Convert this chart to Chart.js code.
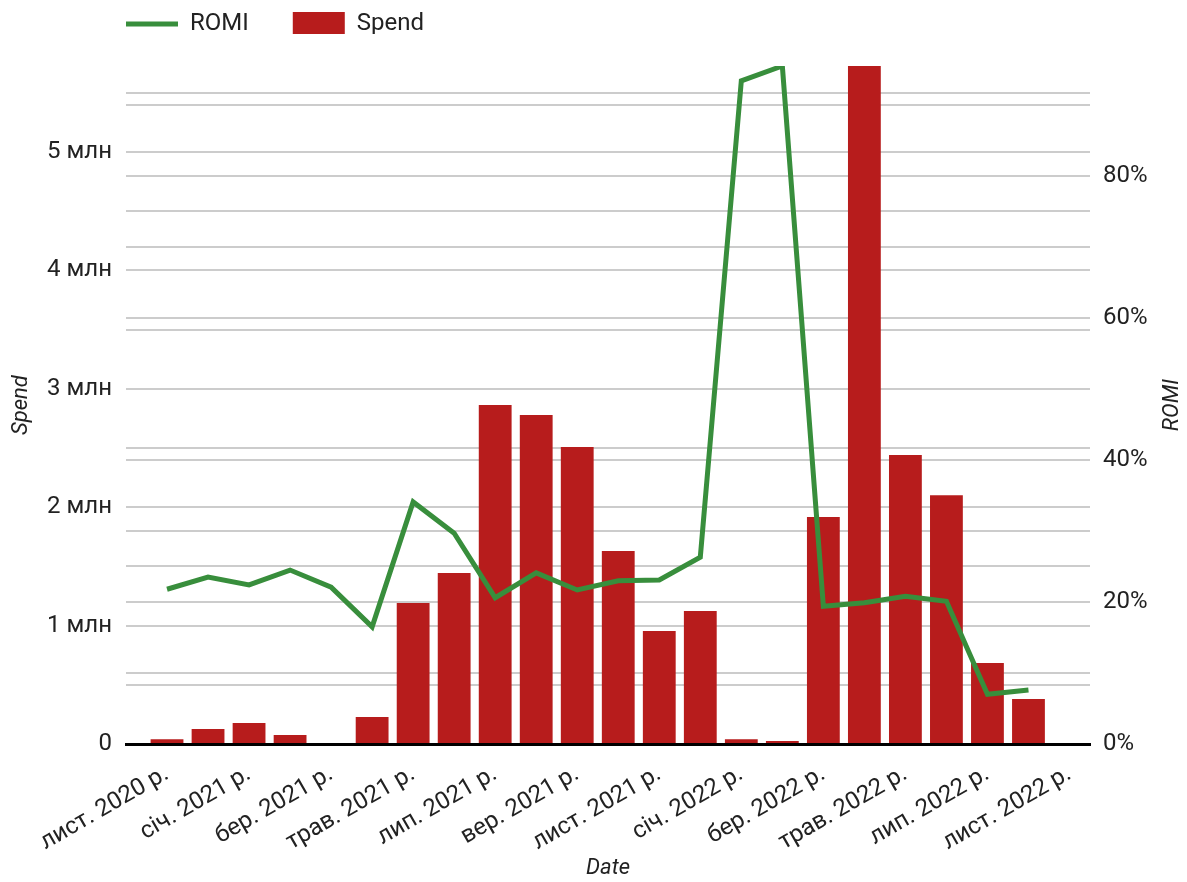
<!DOCTYPE html>
<html>
<head>
<meta charset="utf-8">
<script src="https://cdn.jsdelivr.net/npm/chart.js@4.4.1/dist/chart.umd.min.js"></script>
<style>
  body { margin: 0; background: #fff; }
</style>
</head>
<body>
<canvas id="romi-chart" width="1187" height="882"></canvas>
<script>
// one category per month, only every second one gets a label on the axis
var months = ['лист. 2020 р.', 'груд. 2020 р.', 'січ. 2021 р.', 'лют. 2021 р.', 'бер. 2021 р.',
  'квіт. 2021 р.', 'трав. 2021 р.', 'черв. 2021 р.', 'лип. 2021 р.', 'серп. 2021 р.', 'вер. 2021 р.',
  'жовт. 2021 р.', 'лист. 2021 р.', 'груд. 2021 р.', 'січ. 2022 р.', 'лют. 2022 р.', 'бер. 2022 р.',
  'квіт. 2022 р.', 'трав. 2022 р.', 'черв. 2022 р.', 'лип. 2022 р.', 'серп. 2022 р.', 'лист. 2022 р.'];

var labelledMonths = [0, 2, 4, 6, 8, 10, 12, 14, 16, 18, 20, 22];

// spend per month
var spend = [40000, 127000, 177000, 76000, 0, 228000, 1190000, 1444000, 2863000, 2779000, 2508000,
  1630000, 954000, 1123000, 40000, 25000, 1917000, 5725000, 2440000, 2100000, 684000, 380000];

// ROMI per month, in %
var romi = [21.8, 23.5, 22.4, 24.5, 22.1, 16.5, 34.1, 29.7, 20.6, 24.1, 21.7,
  23.0, 23.1, 26.3, 93.4, 95.5, 19.4, 19.9, 20.8, 20.1, 7.0, 7.6];

var textColor = '#222';
Chart.defaults.font.family = "Roboto, 'Noto Sans', sans-serif";
Chart.defaults.color = textColor;

// gridlines every `step`, but none at the top edge (the max is just the data max)
function stepTicks(step) {
  return function(axis) {
    var ticks = [];
    for (var i = 0; i * step <= axis.max; i++) {
      ticks.push({value: i * step});
    }
    axis.ticks = ticks;
  };
}

// legend sits above the plot, starting where the plot starts
var legendShift = {
  id: 'legendShift',
  afterLayout: function(chart) {
    var l = chart.legend;
    l.left += 82;
    l.right += 82;
    l.top -= 32;
    l.bottom -= 32;
  }
};

// right axis title reads bottom to top, like the left one
var romiTitle = {
  id: 'romiTitle',
  afterDraw: function(chart) {
    var ctx = chart.ctx;
    var area = chart.chartArea;
    ctx.save();
    ctx.translate(chart.scales.y1.right - 15, (area.top + area.bottom) / 2);
    ctx.rotate(-Math.PI / 2);
    ctx.font = "italic 22px Roboto, 'Noto Sans', sans-serif";
    ctx.fillStyle = textColor;
    ctx.textAlign = 'center';
    ctx.textBaseline = 'middle';
    ctx.fillText('ROMI', 0, 0);
    ctx.restore();
  }
};

var chart = new Chart('romi-chart', {
  type: 'bar',
  data: {
    datasets: [
      {
        type: 'line',
        label: 'ROMI',
        data: romi.map(function(v, i) { return {x: i, y: v}; }),
        yAxisID: 'y1',
        borderColor: '#388e3c',
        backgroundColor: '#388e3c',
        borderWidth: 5,
        pointRadius: 0,
        pointStyle: 'line',
        pointBorderWidth: 5,
        pointBorderColor: '#388e3c',
        tension: 0,
        order: 0
      },
      {
        type: 'bar',
        label: 'Spend',
        data: spend.map(function(v, i) { return {x: i, y: v}; }),
        yAxisID: 'y',
        backgroundColor: '#b71c1c',
        borderWidth: 0,
        pointStyle: 'rect',
        barPercentage: 0.8,
        categoryPercentage: 1,
        order: 1
      }
    ]
  },
  plugins: [legendShift, romiTitle],
  options: {
    responsive: false,
    animation: false,
    plugins: {
      tooltip: { enabled: false },
      legend: {
        display: true,
        position: 'top',
        align: 'start',
        maxHeight: 66,
        labels: {
          usePointStyle: true,
          pointStyleWidth: 52,
          padding: 44,
          color: textColor,
          font: { size: 24 }
        }
      }
    },
    scales: {
      x: {
        type: 'linear',
        offset: false,
        min: -1,
        max: 22.5,
        bounds: 'data',
        afterBuildTicks: function(axis) {
          axis.ticks = labelledMonths.map(function(i) { return {value: i}; });
        },
        afterFit: function(axis) { axis.height = 138; },
        grid: { display: false, drawTicks: false },
        border: { display: true, color: '#000', width: 3, z: 1 },
        ticks: {
          autoSkip: false,
          minRotation: 30,
          maxRotation: 30,
          padding: 16,
          font: { size: 24 },
          callback: function(v) { return months[v]; }
        },
        title: {
          display: true,
          text: 'Date',
          padding: 0,
          font: { size: 22, style: 'italic' }
        }
      },
      y: {
        position: 'left',
        min: 0,
        max: Math.max.apply(null, spend),
        bounds: 'data',
        afterBuildTicks: stepTicks(500000),
        afterFit: function(axis) { axis.width = 126; },
        grid: { color: '#cccccc', lineWidth: 2, drawTicks: false },
        border: { display: false },
        ticks: {
          autoSkip: false,
          padding: 14,
          font: { size: 24 },
          callback: function(v) {
            if (v === 0) return '0';
            return v % 1000000 === 0 ? (v / 1000000) + ' млн' : '';
          }
        },
        title: {
          display: true,
          text: 'Spend',
          padding: { top: 8, bottom: 0 },
          font: { size: 22, style: 'italic' }
        }
      },
      y1: {
        position: 'right',
        min: 0,
        max: Math.max.apply(null, romi),
        bounds: 'data',
        afterBuildTicks: stepTicks(10),
        afterFit: function(axis) { axis.width = 97; },
        grid: { color: '#cccccc', lineWidth: 2, drawTicks: false },
        border: { display: false },
        ticks: {
          autoSkip: false,
          padding: 13,
          font: { size: 24 },
          callback: function(v) { return v % 20 === 0 ? v + '%' : ''; }
        }
      }
    }
  }
});
</script>
</body>
</html>
